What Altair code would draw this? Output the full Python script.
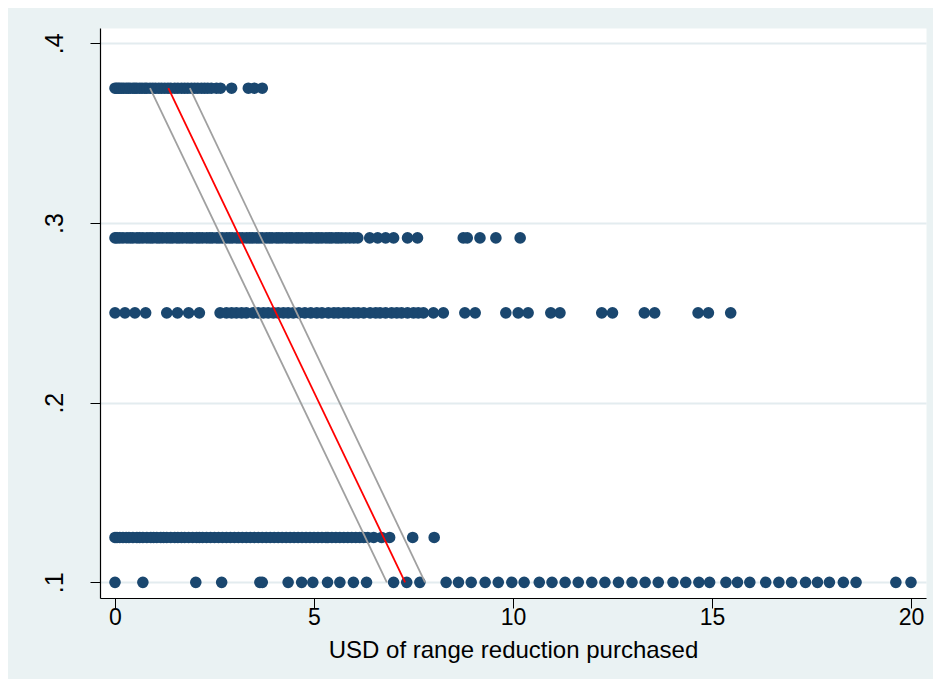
import altair as alt
import pandas as pd

# ---- data ----
row_375_x = [0, 0.04, 0.08, 0.12, 0.17, 0.22, 0.28, 0.33, 0.38, 0.45, 0.5, 0.55, 0.62, 0.68,
             0.75, 0.8, 0.88, 0.95, 1.02, 1.1, 1.17, 1.25, 1.33, 1.4, 1.5, 1.58, 1.67, 1.75,
             1.83, 1.92, 2.0, 2.08, 2.17, 2.25, 2.33, 2.42, 2.55, 2.65, 2.93, 3.35, 3.5, 3.7]
row_292_x = [0, 0.05, 0.12, 0.2, 0.3, 0.38, 0.45, 0.55, 0.62, 0.7, 0.8, 0.88, 0.95, 1.05, 1.12,
             1.2, 1.3, 1.38, 1.45, 1.55, 1.62, 1.7, 1.8, 1.88, 1.95, 2.05, 2.12, 2.2, 2.3, 2.38,
             2.45, 2.55, 2.62, 2.7, 2.8, 2.88, 2.95, 3.05, 3.12, 3.2, 3.3, 3.38, 3.45, 3.55,
             3.62, 3.7, 3.8, 3.88, 3.95, 4.05, 4.12, 4.2, 4.3, 4.38, 4.45, 4.55, 4.62, 4.7,
             4.8, 4.88, 4.95, 5.05, 5.12, 5.2, 5.3, 5.38, 5.45, 5.55, 5.62, 5.7, 5.8, 5.9, 6.0,
             6.1, 6.4, 6.6, 6.8, 7.0, 7.35, 7.6, 8.75, 8.85, 9.17, 9.57, 10.18]
row_250_x = [0, 0.25, 0.5, 0.77, 1.3, 1.57, 1.85, 2.12, 2.64, 2.8, 2.93, 3.05, 3.18, 3.3, 3.47,
             3.6, 3.73, 3.85, 3.98, 4.1, 4.23, 4.35, 4.48, 4.62, 4.77, 4.92, 5.07, 5.2, 5.36,
             5.5, 5.61, 5.75, 5.86, 6.0, 6.11, 6.25, 6.41, 6.55, 6.66, 6.8, 6.95, 7.08, 7.2,
             7.35, 7.5, 7.62, 7.75, 8.0, 8.25, 8.79, 9.05, 9.82, 10.13, 10.38, 10.95, 11.18,
             12.23, 12.5, 13.3, 13.56, 14.65, 14.91, 15.47]
row_125_x = [0, 0.05, 0.12, 0.2, 0.28, 0.35, 0.45, 0.55, 0.62, 0.7, 0.8, 0.9, 0.97, 1.05, 1.15,
             1.22, 1.3, 1.4, 1.5, 1.58, 1.67, 1.75, 1.85, 1.95, 2.05, 2.12, 2.2, 2.3, 2.4, 2.5,
             2.6, 2.7, 2.8, 2.9, 3.0, 3.1, 3.2, 3.3, 3.4, 3.5, 3.6, 3.7, 3.8, 3.9, 4.0, 4.1,
             4.2, 4.3, 4.4, 4.5, 4.6, 4.7, 4.8, 4.9, 5.0, 5.1, 5.2, 5.3, 5.35, 5.45, 5.55, 5.65,
             5.75, 5.85, 5.95, 6.05, 6.15, 6.25, 6.35, 6.5, 6.7, 6.9, 7.48, 8.02]
row_100_x = [0, 0.7, 2.03, 2.68, 3.64, 3.7, 4.35, 4.69, 4.97, 5.34, 5.65, 5.99, 6.32, 7.0, 7.33,
             7.66, 8.32, 8.63, 8.95, 9.3, 9.63, 9.97, 10.28, 10.66, 10.98, 11.31, 11.64, 11.98,
             12.31, 12.65, 12.99, 13.32, 13.65, 14.02, 14.34, 14.67, 14.94, 15.35, 15.64, 15.95,
             16.35, 16.68, 17.0, 17.35, 17.65, 17.95, 18.3, 18.62, 19.62, 20.0]
row_levels = [0.375, 0.2917, 0.25, 0.125, 0.1]

fit_y = [0.375, 0.1]
fit_x = [1.34, 7.29]
ci_lo_x = [0.88, 6.83]
ci_hi_x = [1.88, 7.79]

x_ticks = [0, 5, 10, 15, 20]
y_ticks = [0.1, 0.2, 0.3, 0.4]
x_title = "USD of range reduction purchased"

# ---- tables ----
rows = []
for xs, lvl in zip([row_375_x, row_292_x, row_250_x, row_125_x, row_100_x], row_levels):
    for v in xs:
        rows.append({"x": v, "y": lvl})
pts = pd.DataFrame(rows)

fit = pd.DataFrame({"x": fit_x, "y": fit_y, "o": [0, 1]})
ci = pd.DataFrame({
    "x": ci_lo_x + ci_hi_x,
    "y": fit_y + fit_y,
    "o": [0, 1, 0, 1],
    "band": ["lo", "lo", "hi", "hi"],
})

FONT = "Liberation Sans"
xscale = alt.Scale(domain=[-0.377, 20.377], nice=False, zero=False)
yscale = alt.Scale(domain=[0.0913, 0.4085], nice=False, zero=False)

xaxis = alt.Axis(values=x_ticks, grid=False, tickSize=10, tickColor="black", tickWidth=1,
                 domainColor="black", domainWidth=1.2, labelColor="black", labelFontSize=23,
                 labelFont=FONT, labelBaseline="alphabetic", labelPadding=16,
                 title=x_title, titleFont=FONT, titleFontSize=24, titleFontWeight="normal",
                 titleColor="black", titleBaseline="alphabetic", titleY=59, labelFlush=False)
yaxis = alt.Axis(values=y_ticks, grid=True, gridColor="#E3ECEF", gridWidth=2,
                 tickSize=10, tickColor="black", tickWidth=1, domainColor="black",
                 domainWidth=1.2, labelColor="black", labelFontSize=25, labelFont=FONT,
                 labelAngle=270, labelAlign="center", labelBaseline="alphabetic",
                 labelPadding=28, labelExpr="replace(format(datum.value, '.1f'), '0.', '.')",
                 title=None, labelFlush=False)

points = alt.Chart(pts).mark_circle(size=135, opacity=1, color="#1A476F").encode(
    x=alt.X("x:Q", scale=xscale, axis=xaxis),
    y=alt.Y("y:Q", scale=yscale, axis=yaxis),
)
ci_lines = alt.Chart(ci).mark_line(color="#A0A0A0", strokeWidth=1.8).encode(
    x=alt.X("x:Q", scale=xscale), y=alt.Y("y:Q", scale=yscale),
    detail="band:N", order="o:Q",
)
fit_line = alt.Chart(fit).mark_line(color="#FF0000", strokeWidth=1.8).encode(
    x=alt.X("x:Q", scale=xscale), y=alt.Y("y:Q", scale=yscale), order="o:Q",
)

chart = alt.layer(points, ci_lines, fit_line).properties(
    width=826, height=570,
    padding={"left": 92, "top": 20, "right": 7, "bottom": 81},
    autosize=alt.AutoSizeParams(type="none"),
    background="#EAF2F3",
).configure_view(fill="white", stroke="transparent")

chart.save("out.html", embed_options={"renderer": "svg", "actions": False})
